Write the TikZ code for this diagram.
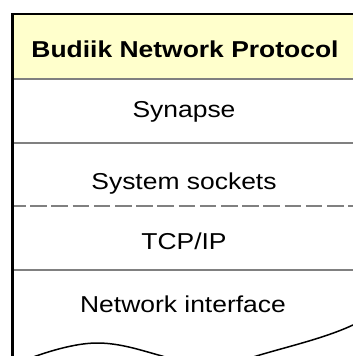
\documentclass[tikz,border=0pt]{standalone}
\usepackage{fontspec}
\setmainfont{Liberation Sans}[FakeStretch=1.15]
\definecolor{paleyellow}{HTML}{FFFFCC}
\begin{document}
\begin{tikzpicture}[x=1pt,y=-1pt,
  layertext/.style={anchor=base,inner sep=0pt,font=\fontsize{23}{27}\selectfont},
  sepline/.style={draw=gray,line width=1.9pt},
  border/.style={draw=black,line width=2.3pt},
  wave/.style={draw=black,line width=1.5pt}]
\useasboundingbox (0,0) rectangle (353,356);
\begin{scope}
\clip (0,0) rectangle (353,356);
\fill[paleyellow] (12.5,14) rectangle (360,78.7);
\coordinate (l1a) at (12.5,78.7);  \coordinate (l1b) at (360,78.7);
\coordinate (l2a) at (12.5,142.7); \coordinate (l2b) at (360,142.7);
\coordinate (l3a) at (12.5,206);   \coordinate (l3b) at (360,206);
\coordinate (l4a) at (12.5,270);   \coordinate (l4b) at (360,270);
\draw[sepline] (l1a) -- (l1b);
\draw[sepline] (l2a) -- (l2b);
\draw[sepline,dash pattern=on 16.5pt off 4.7pt,dash phase=3.5pt] (l3a) -- (l3b);
\draw[sepline] (l4a) -- (l4b);
\coordinate (tl) at (12.5,14);
\coordinate (tr) at (360,14);
\coordinate (bl) at (12.5,360);
\draw[border] (bl) -- (tl) -- (tr);
\draw[wave] (20,362) .. controls (45,352) and (75,343) .. (97,343)
  .. controls (120,343) and (140,350) .. (162,356)
  .. controls (185,364) and (200,368) .. (212,368)
  .. controls (228,368) and (240,361) .. (258,355.5)
  .. controls (290,346) and (325,338) .. (353,325)
  .. controls (360,322) and (365,319) .. (370,316);
\end{scope}
\node[layertext] (title) at (185,57) {\bfseries Budiik Network Protocol};
\node[layertext] (synapse) at (184,117) {Synapse};
\node[layertext] (sockets) at (184,189) {System sockets};
\node[layertext] (tcpip) at (184,249) {TCP/IP};
\node[layertext] (netif) at (183,312) {Network interface};
\end{tikzpicture}
\end{document}
